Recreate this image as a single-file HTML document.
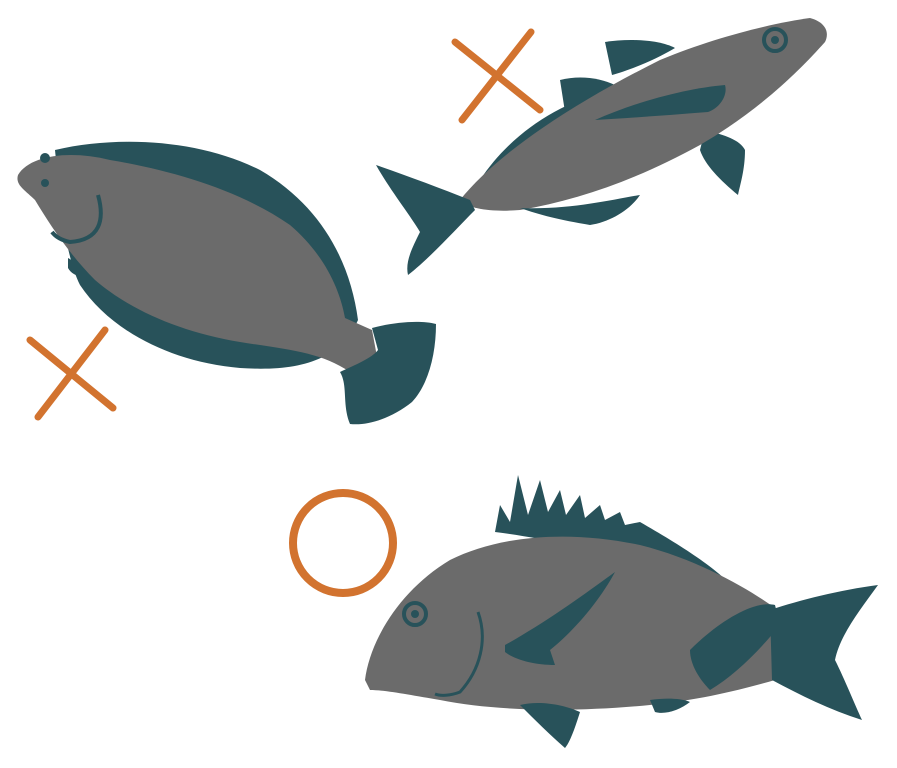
<!DOCTYPE html>
<html>
<head>
<meta charset="utf-8">
<style>
  html,body{margin:0;padding:0;background:#fff;}
  svg{display:block;}
</style>
</head>
<body>
<svg width="897" height="768" viewBox="0 0 897 768" xmlns="http://www.w3.org/2000/svg">
  <g stroke="#d2732f" stroke-width="7" stroke-linecap="round">
    <line x1="455" y1="42" x2="540" y2="110"/>
    <line x1="531" y1="32" x2="462" y2="120"/>
  </g>
  <g stroke="#d2732f" stroke-width="7" stroke-linecap="round">
    <line x1="30" y1="340" x2="113" y2="408"/>
    <line x1="105" y1="330" x2="38" y2="417"/>
  </g>
  <circle cx="343" cy="543" r="50" fill="none" stroke="#d2732f" stroke-width="8"/>

  <g>
    <path fill="#28525a" d="M55,150 C120,135 200,140 260,170 C320,205 350,260 358,320 C340,360 300,372 240,368 C170,362 110,330 80,285 C65,255 60,200 55,150 Z"/>
    <path fill="#6b6b6b" d="M18,175 C30,155 70,150 110,160 C170,170 240,190 290,225 C325,255 340,290 345,318 L372,330 L378,362 L350,372 C320,352 290,350 240,342 C180,332 130,310 95,280 C70,255 50,225 35,200 C25,190 15,185 18,175 Z"/>
    <path fill="#28525a" d="M372,328 C395,322 420,320 436,324 C436,355 428,385 412,402 C392,418 368,426 350,424 C342,405 348,385 340,372 C355,365 372,358 378,350 Z"/>
    <path fill="none" stroke="#28525a" stroke-width="4" d="M98,195 C105,220 100,240 70,242 C60,240 55,236 52,232"/>
    <circle cx="45" cy="158" r="5" fill="#28525a"/>
    <circle cx="45" cy="183" r="4" fill="#28525a"/>
    <path fill="#28525a" d="M68,258 C75,262 85,268 88,275 C80,278 72,275 68,268 Z"/>
  </g>

  <g>
    <path fill="#28525a" d="M605,42 C630,38 660,40 675,48 C655,60 630,70 612,75 Z"/>
    <path fill="#28525a" d="M560,80 C580,75 600,78 615,85 C600,100 580,110 565,112 Z"/>
    <path fill="#28525a" d="M705,130 C725,135 740,140 745,150 C745,170 740,185 738,195 C720,180 705,165 700,150 Z"/>
    <path fill="#28525a" d="M480,180 C520,120 580,95 630,85 L640,110 C600,140 560,175 510,200 Z"/>
    <path fill="#6b6b6b" d="M460,200 C500,150 580,100 660,60 C720,35 780,22 810,18 C825,22 830,32 825,42 C800,70 760,110 700,145 C640,178 580,200 520,210 C495,212 470,210 460,200 Z"/>
    <path fill="#28525a" d="M520,208 C570,210 610,200 640,195 C630,210 610,222 590,225 C560,220 540,215 520,208 Z"/>
    <path fill="#28525a" d="M595,120 C640,100 690,88 725,85 C728,95 720,108 708,112 C670,115 630,118 595,120 Z"/>
    <path fill="#28525a" d="M470,200 C440,188 405,175 376,165 C390,190 410,215 420,232 C412,248 405,262 408,275 C430,258 455,230 475,210 Z"/>
    <circle cx="775" cy="40" r="11" fill="none" stroke="#28525a" stroke-width="4"/>
    <circle cx="775" cy="40" r="4" fill="#28525a"/>
  </g>

  <g>
    <path fill="#28525a" d="M495,532 L500,505 L510,522 L518,475 L528,515 L540,480 L548,512 L560,490 L566,515 L580,495 L585,518 L600,505 L605,520 L620,512 L625,525 L640,522 C680,545 720,570 735,590 L690,585 C640,560 560,540 495,532 Z"/>
    <path fill="#6b6b6b" d="M365,680 C370,640 400,590 450,560 C500,535 570,530 640,545 C700,560 750,590 775,608 L775,680 C740,690 700,700 650,705 C580,712 500,712 440,700 C410,695 385,690 370,690 Z"/>
    <path fill="#28525a" d="M690,650 C720,620 755,600 775,605 L780,625 C760,650 735,675 710,690 C700,680 690,665 690,650 Z"/>
    <path fill="#28525a" d="M770,610 C800,600 840,590 878,585 C860,610 840,635 835,660 C845,680 855,705 862,720 C830,710 800,695 772,680 Z"/>
    <path fill="#28525a" d="M520,705 C540,700 565,705 580,712 C575,728 570,742 565,748 C550,735 535,720 520,705 Z"/>
    <path fill="#28525a" d="M650,700 C665,698 680,698 690,702 C680,710 665,715 655,712 Z"/>
    <path fill="#28525a" d="M505,645 C550,620 590,590 615,572 C600,600 575,630 550,650 L555,665 C535,665 515,660 505,652 Z"/>
    <path fill="none" stroke="#28525a" stroke-width="3" d="M478,612 C488,640 480,670 460,692 C450,696 440,696 435,694"/>
    <circle cx="415" cy="614" r="11" fill="none" stroke="#28525a" stroke-width="4"/>
    <circle cx="415" cy="614" r="4" fill="#28525a"/>
  </g>
</svg>
</body>
</html>
